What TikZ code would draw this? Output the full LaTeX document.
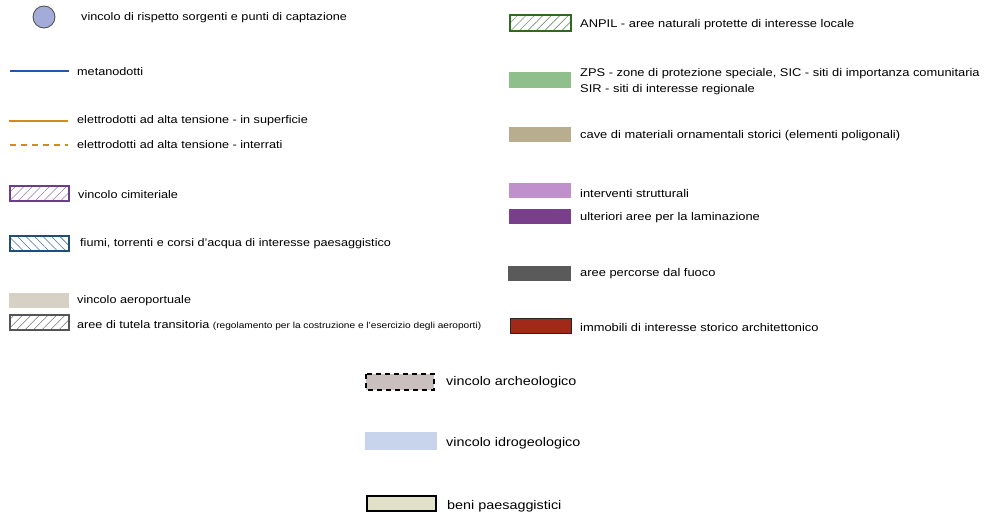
\documentclass[tikz,border=0pt]{standalone}
\usepackage{fontspec}
\setmainfont{Liberation Sans}[FakeStretch=1.15]
\usetikzlibrary{patterns.meta}
\definecolor{circfill}{HTML}{A3ABD9}
\definecolor{metblue}{HTML}{2356B4}
\definecolor{elorange}{HTML}{D38B1F}
\definecolor{cimpurp}{HTML}{6B3D8C}
\definecolor{fiumblue}{HTML}{1F4E79}
\definecolor{aerofill}{HTML}{D7D0C5}
\definecolor{tutgray}{HTML}{555555}
\definecolor{anpgreen}{HTML}{2E6B1E}
\definecolor{zpsfill}{HTML}{8FBF8C}
\definecolor{cavefill}{HTML}{B8AD8F}
\definecolor{intfill}{HTML}{C090CC}
\definecolor{ultfill}{HTML}{7A3F8A}
\definecolor{fuocofill}{HTML}{5A5A5A}
\definecolor{immfill}{HTML}{A0291A}
\definecolor{arcfill}{HTML}{CABFBF}
\definecolor{idrofill}{HTML}{C8D4EC}
\definecolor{benifill}{HTML}{E1E1C9}
\begin{document}
\begin{tikzpicture}[x=1pt,y=-1pt,
  lbl/.style={anchor=west,inner sep=0pt,font=\fontsize{11}{13}\selectfont},
  lblr/.style={anchor=west,inner sep=0pt,font=\fontsize{11.2}{13}\selectfont},
  lblb/.style={anchor=west,inner sep=0pt,font=\fontsize{12.5}{15}\selectfont},
  hatchne/.style={pattern={Lines[angle=45,distance=6pt,line width=0.6pt]}},
  hatchnw/.style={pattern={Lines[angle=-45,distance=6pt,line width=0.6pt]}}]
\useasboundingbox (0,0) rectangle (986,516);
% left column
\node[circle,draw=black!70,fill=circfill,line width=0.8pt,minimum size=22pt,inner sep=0pt] (c1) at (44,17) {};
\node[lbl] (t1) at (81,18) {vincolo di rispetto sorgenti e punti di captazione};

\coordinate (m1) at (10,71); \coordinate (m2) at (69,71);
\draw[metblue,line width=1.2pt] (m1) -- (m2);
\node[lbl] (t2) at (77,72) {metanodotti};

\coordinate (e1) at (9,121); \coordinate (e2) at (68,121);
\draw[elorange,line width=1.2pt] (e1) -- (e2);
\node[lbl] (t3) at (77,121) {elettrodotti ad alta tensione - in superficie};

\coordinate (d1) at (10,145); \coordinate (d2) at (68,145);
\draw[elorange,line width=1.2pt,dash pattern=on 6pt off 5pt] (d1) -- (d2);
\node[lbl] (t4) at (77,145) {elettrodotti ad alta tensione - interrati};

\path[hatchne,pattern color=cimpurp!70] (10,186) rectangle (69,201);
\draw[cimpurp,line width=1.3pt] (10,186) rectangle (69,201);
\node[lbl] (t5) at (78,195) {vincolo cimiteriale};

\path[hatchnw,pattern color=fiumblue!80] (10,236) rectangle (69,251);
\draw[fiumblue,line width=1.3pt] (10,236) rectangle (69,251);
\node[lbl] (t6) at (80,244) {fiumi, torrenti e corsi d'acqua di interesse paesaggistico};

\fill[aerofill] (9,293) rectangle (69,308);
\node[lbl] (t7) at (77,301) {vincolo aeroportuale};

\path[hatchne,pattern color=black!55] (10,315) rectangle (69,330);
\draw[tutgray,line width=1.3pt] (10,315) rectangle (69,330);
\node[lbl] (t8) at (77,325) {aree di tutela transitoria {\fontsize{8.8}{10}\selectfont (regolamento per la costruzione e l'esercizio degli aeroporti)}};

% right column
\path[hatchne,pattern color=anpgreen!70] (510,15) rectangle (571,31);
\draw[anpgreen,line width=1.3pt] (510,15) rectangle (571,31);
\node[lblr] (t9) at (580,25) {ANPIL - aree naturali protette di interesse locale};

\fill[zpsfill] (509,72) rectangle (571,88);
\node[lblr] (t10) at (580,74) {ZPS - zone di protezione speciale, SIC - siti di importanza comunitaria};
\node[lblr] (t10b) at (580,90) {SIR - siti di interesse regionale};

\fill[cavefill] (509,127) rectangle (571,142);
\node[lblr] (t11) at (580,136) {cave di materiali ornamentali storici (elementi poligonali)};

\fill[intfill] (509,183) rectangle (571,198);
\node[lblr] (t12) at (580,193) {interventi strutturali};

\fill[ultfill] (509,209) rectangle (571,224);
\node[lblr] (t13) at (580,218) {ulteriori aree per la laminazione};

\fill[fuocofill] (508,266) rectangle (571,281);
\node[lblr] (t14) at (580,274) {aree percorse dal fuoco};

\draw[fill=immfill,draw=black!85,line width=1pt] (510,318) rectangle (571,333);
\node[lblr] (t15) at (580,327) {immobili di interesse storico architettonico};

% bottom centre
\draw[fill=arcfill,draw=black,line width=2pt,dash pattern=on 5pt off 4pt] (366,374) rectangle (434,390);
\node[lblb] (t16) at (446,382) {vincolo archeologico};

\fill[idrofill] (365,432) rectangle (437,450);
\node[lblb] (t17) at (446,443) {vincolo idrogeologico};

\draw[fill=benifill,draw=black,line width=2pt] (367,496) rectangle (436,511);
\node[lblb] (t18) at (447,506) {beni paesaggistici};
\end{tikzpicture}
\end{document}
